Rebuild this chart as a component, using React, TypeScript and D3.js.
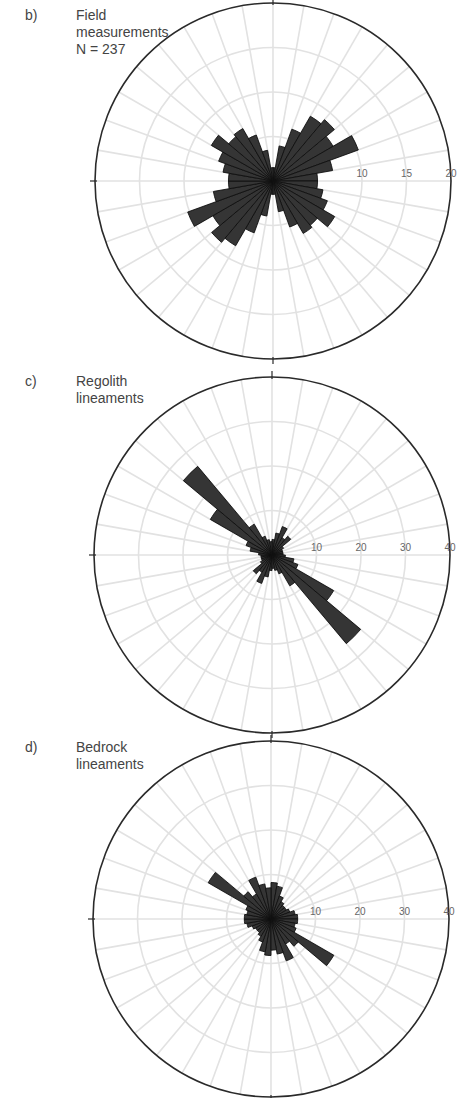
import React from "react";
import * as d3 from "d3";

// Bin start azimuths (degrees, clockwise from north); axial data mirrored +180
const binStarts = [0, 10, 20, 30, 40, 50, 60, 70, 80, 90, 100, 110, 120, 130, 140, 150, 160, 170];
const binWidth = 10;

const fieldValues = [1.5, 4.0, 6.2, 8.4, 9.0, 7.8, 10.2, 6.8, 5.0, 5.0, 5.7, 6.5, 8.0, 6.5, 6.8, 5.5, 3.5, 1.5];
const regolithValues = [3.5, 5.0, 6.8, 4.5, 5.5, 3.0, 2.5, 2.5, 2.5, 3.0, 5.0, 6.2, 16.0, 26.0, 8.0, 4.5, 3.5, 3.0];
const bedrockValues = [8.2, 7.5, 5.5, 4.5, 4.0, 4.0, 4.5, 5.5, 6.0, 6.0, 5.5, 6.0, 16.3, 8.0, 6.5, 10.0, 8.0, 7.0];

const fieldTicks = [10, 15, 20];
const lineamentTicks = [10, 20, 30, 40];
const fieldRings = [5, 10, 15];
const lineamentRings = [10, 20, 30];

const panelLetters = ["b)", "c)", "d)"];
const fieldTitle = ["Field", "measurements", "N = 237"];
const regolithTitle = ["Regolith", "lineaments"];
const bedrockTitle = ["Bedrock", "lineaments"];

const spokeAngles = d3.range(0, 360, 10);

const W = 459;
const H = 1098;
const R = 178;

type Panel = {
  letter: string;
  title: string[];
  values: number[];
  max: number;
  ticks: number[];
  rings: number[];
  cx: number;
  cy: number;
  textTop: number;
};

const panels: Panel[] = [
  { letter: panelLetters[0], title: fieldTitle, values: fieldValues, max: 20, ticks: fieldTicks, rings: fieldRings, cx: 273, cy: 181, textTop: 19.5 },
  { letter: panelLetters[1], title: regolithTitle, values: regolithValues, max: 40, ticks: lineamentTicks, rings: lineamentRings, cx: 272, cy: 555, textTop: 386 },
  { letter: panelLetters[2], title: bedrockTitle, values: bedrockValues, max: 40, ticks: lineamentTicks, rings: lineamentRings, cx: 271, cy: 919, textTop: 752 },
];

const rad = (deg: number) => (deg * Math.PI) / 180;

function Rose({ p }: { p: Panel }) {
  const r = d3.scaleLinear().domain([0, p.max]).range([0, R]);
  const arc = d3.arc<any>();
  const bars: { a0: number; v: number }[] = [];
  p.values.forEach((v, i) => {
    bars.push({ a0: binStarts[i], v });
    bars.push({ a0: binStarts[i] + 180, v });
  });
  const grid = "#e2e2e2";
  return (
    <g transform={`translate(${p.cx},${p.cy})`}>
      {spokeAngles.map((a) => (
        <line
          key={"s" + a}
          x1={0}
          y1={0}
          x2={R * Math.sin(rad(a))}
          y2={-R * Math.cos(rad(a))}
          stroke={grid}
          strokeWidth={1.6}
        />
      ))}
      {p.rings.map((v) => (
        <circle key={"r" + v} r={r(v)} fill="none" stroke={grid} strokeWidth={1.6} />
      ))}
      {bars.map((b, i) => (
        <path
          key={"b" + i}
          d={arc({ innerRadius: 0, outerRadius: r(b.v), startAngle: rad(b.a0), endAngle: rad(b.a0 + binWidth) }) || ""}
          fill="#353535"
          stroke="#111"
          strokeWidth={0.9}
        />
      ))}
      <circle r={R} fill="none" stroke="#2a2a2a" strokeWidth={1.6} />
      <line x1={0} y1={-R - 6} x2={0} y2={-R + 2} stroke="#2a2a2a" strokeWidth={1.2} />
      <line x1={0} y1={R - 2} x2={0} y2={R + 5} stroke="#2a2a2a" strokeWidth={1.2} />
      <line x1={-R - 5} y1={0} x2={-R + 2} y2={0} stroke="#2a2a2a" strokeWidth={1.2} />
      {p.ticks.map((t) => (
        <text
          key={"t" + t}
          x={r(t)}
          y={-4}
          textAnchor="middle"
          fontFamily="Liberation Sans, Arial, sans-serif"
          fontSize={10}
          fill="#666"
        >
          {t}
        </text>
      ))}
    </g>
  );
}

export default function App() {
  return (
    <svg width={W} height={H} style={{ position: "absolute", left: 0, top: 0, background: "#fff" }}>
      {panels.map((p, i) => (
        <g key={i}>
          <Rose p={p} />
          <text x={25} y={p.textTop} fontFamily="Liberation Sans, Arial, sans-serif" fontSize={14} fill="#444">
            {p.letter}
          </text>
          {p.title.map((t, j) => (
            <text
              key={j}
              x={76}
              y={p.textTop + j * 17}
              fontFamily="Liberation Sans, Arial, sans-serif"
              fontSize={14}
              fill="#444"
            >
              {t}
            </text>
          ))}
        </g>
      ))}
    </svg>
  );
}
